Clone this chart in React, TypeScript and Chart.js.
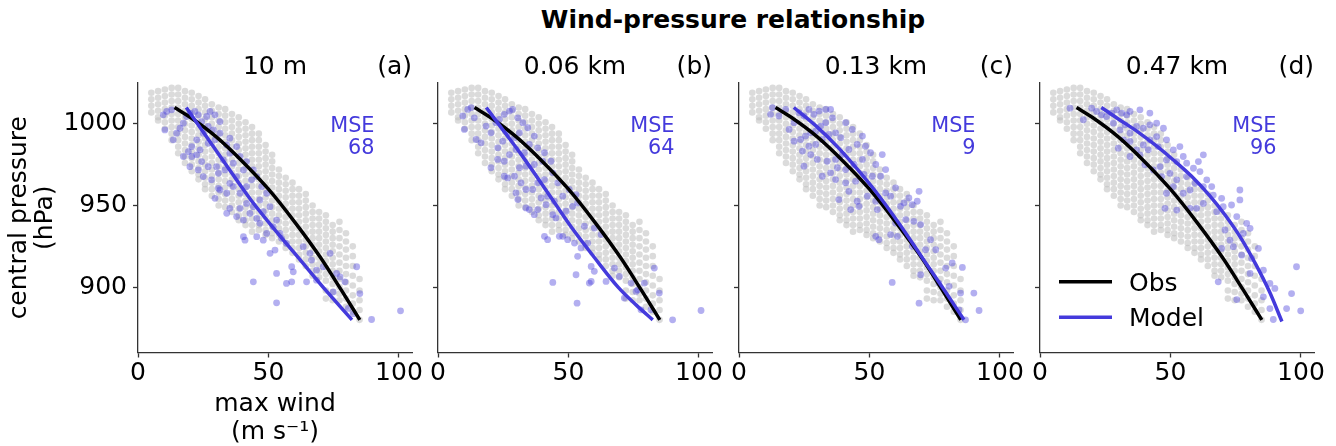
import { useEffect, useRef } from "react";
import { Chart, registerables } from "chart.js";

Chart.register(...registerables);

const FONT = "'DejaVu Sans', sans-serif";
const BLUE = "rgb(68, 58, 220)";
const AXIS = "#333";

// observed best-track points: one column per wind value (m/s), pressures in hPa
const obsWind = [
  5.1, 7.7, 10.3, 12.9, 15.4, 18.0, 20.6, 23.2, 25.7, 28.3, 30.9, 33.4, 36.0, 38.6, 41.2, 43.7,
  46.3, 48.9, 51.4, 54.0, 56.6, 59.2, 61.7, 64.3, 66.9, 69.4, 72.0, 74.6, 77.2, 79.7, 82.3, 84.9,
];
const obsPressure = [
  [1019, 1015, 1011, 1007],
  [1020, 1016, 1012, 1008, 1004, 1002],
  [1021, 1017, 1013, 1009, 1005, 1001, 997],
  [1022, 1018, 1014, 1010, 1006, 1002, 998, 994, 990],
  [1022, 1018, 1014, 1010, 1006, 1002, 998, 994, 990, 986, 982],
  [1020, 1016, 1012, 1008, 1004, 1000, 996, 992, 988, 984, 980, 976],
  [1019, 1015, 1011, 1007, 1003, 999, 995, 991, 987, 983, 979, 975, 971],
  [1017, 1013, 1009, 1005, 1001, 997, 993, 989, 985, 981, 977, 973, 969, 966],
  [1015, 1011, 1007, 1003, 999, 995, 991, 987, 983, 979, 975, 971, 967, 963, 960],
  [1012, 1008, 1004, 1000, 996, 992, 988, 984, 980, 976, 972, 968, 964, 960, 956],
  [1010, 1006, 1002, 998, 994, 990, 986, 982, 978, 974, 970, 966, 962, 958, 954, 950],
  [1009, 1005, 1001, 997, 993, 989, 985, 981, 977, 973, 969, 965, 961, 957, 953, 949],
  [1006, 1002, 998, 994, 990, 986, 982, 978, 974, 970, 966, 962, 958, 954, 950, 946],
  [1004, 1000, 996, 992, 988, 984, 980, 976, 972, 968, 964, 960, 956, 952, 948, 944, 941],
  [1001, 997, 993, 989, 985, 981, 977, 973, 969, 965, 961, 957, 953, 949, 945, 941, 938],
  [998, 994, 990, 986, 982, 978, 974, 970, 966, 962, 958, 954, 950, 946, 942, 938, 934],
  [994, 990, 986, 982, 978, 974, 970, 966, 962, 958, 954, 950, 946, 942, 938, 935],
  [987, 983, 979, 975, 971, 967, 963, 959, 955, 951, 947, 943, 939, 935, 932],
  [981, 977, 973, 969, 965, 961, 957, 953, 949, 945, 941, 937, 933, 930],
  [972, 968, 964, 960, 956, 952, 948, 944, 940, 936, 932, 928],
  [967, 963, 959, 955, 951, 947, 943, 939, 935, 931, 927, 924],
  [964, 960, 956, 952, 948, 944, 940, 936, 932, 928, 924, 921],
  [960, 956, 952, 948, 944, 940, 936, 932, 928, 924, 920, 917],
  [957, 953, 949, 945, 941, 937, 933, 929, 925, 921, 917, 913],
  [950, 946, 942, 938, 934, 930, 926, 922, 918, 914, 910, 907],
  [946, 942, 938, 934, 930, 926, 922, 918, 914, 910, 906],
  [944, 940, 936, 932, 928, 924, 920, 916, 912, 908, 904, 898, 893],
  [938, 934, 930, 926, 922, 918, 914, 910, 906, 902, 897, 892],
  [940, 935, 930, 925, 920, 915, 910, 905, 900, 896, 892],
  [933, 928, 923, 918, 913, 908, 903, 898, 893, 888],
  [925, 919, 913, 907, 901, 895, 890, 885],
  [905, 898, 892, 886, 880],
];

const obsFitWind = [14, 20, 30, 40, 50, 60, 70, 78, 85];
const obsFitPressure = [1010, 1004, 992, 977, 960, 940, 918, 898, 880];

// model points, [max wind, central pressure], one list per height
const modelA: [number, number][] = [
  [9.7, 1005.5], [11.0, 1007.6], [12.9, 1008.6], [10.3, 996.3], [13.5, 990.2], [14.8, 994.3], [16.1, 997.3],
  [17.4, 1000.4], [18.6, 1004.5], [19.9, 1006.6], [21.8, 1007.6], [23.1, 1005.5], [24.4, 1001.4], [26.3, 1004.5],
  [27.6, 1007.6], [29.5, 1005.5], [31.4, 1001.4], [28.9, 996.3], [26.9, 998.4], [25.0, 994.3], [22.5, 990.2],
  [20.6, 986.1], [19.3, 983.0], [17.4, 980.0], [20.6, 980.0], [23.8, 984.1], [26.9, 988.1], [29.5, 990.2],
  [31.4, 994.3], [34.0, 987.1], [35.2, 991.2], [37.8, 986.1], [35.2, 982.0], [32.7, 977.9], [30.1, 973.8],
  [26.9, 973.8], [24.4, 976.9], [22.5, 981.0], [19.9, 973.8], [23.1, 971.8], [25.0, 967.7], [28.2, 965.7],
  [30.8, 969.7], [33.3, 971.8], [36.5, 975.9], [39.1, 980.0], [41.6, 976.9], [40.4, 971.8], [37.8, 967.7],
  [35.2, 963.6], [31.4, 959.5], [29.5, 954.4], [30.8, 960.5], [34.0, 957.5], [36.5, 961.6], [39.1, 957.5],
  [41.6, 961.6], [43.5, 965.7], [45.5, 967.7], [44.2, 971.8], [47.4, 961.6], [49.3, 957.5], [46.7, 953.4],
  [44.2, 949.3], [41.6, 951.3], [39.1, 948.3], [35.2, 948.3], [34.0, 945.2], [37.8, 943.2], [40.4, 941.1],
  [42.9, 945.2], [45.5, 942.1], [48.0, 946.2], [50.6, 949.3], [53.1, 941.1], [51.8, 937.0], [49.3, 932.9],
  [46.7, 939.1], [54.4, 932.9], [56.9, 926.8], [55.0, 929.9], [52.5, 922.7], [50.6, 920.7], [48.0, 928.8],
  [45.5, 930.9], [41.0, 928.8], [40.4, 930.9], [44.2, 903.3], [53.1, 908.4], [58.9, 912.5], [59.5, 909.4],
  [56.9, 902.3], [58.9, 903.3], [64.6, 903.3], [68.4, 904.3], [68.4, 910.4], [66.5, 916.6], [65.9, 920.7],
  [63.3, 924.8], [71.0, 912.5], [74.8, 897.1], [77.4, 906.3], [79.3, 903.3], [80.6, 887.0], [83.8, 912.5],
  [85.0, 896.1], [53.1, 890.4], [89.5, 880.2], [100.6, 885.5], [82.5, 883.8], [73.6, 920.7], [76.1, 908.4],
];
const modelB: [number, number][] = [
  [9.5, 1004.8], [11.4, 1008.8], [12.7, 1009.9], [13.9, 1003.7], [10.1, 996.6], [14.6, 990.4], [16.5, 988.4],
  [18.4, 998.6], [20.3, 994.5], [22.2, 1000.7], [23.5, 1002.7], [25.4, 1005.8], [27.4, 1007.8], [28.6, 1008.8],
  [30.6, 1003.7], [32.5, 1000.7], [34.4, 997.6], [31.2, 994.5], [29.3, 991.5], [26.7, 994.5], [24.8, 989.4],
  [22.9, 985.3], [20.3, 973.1], [22.9, 978.2], [25.4, 977.1], [27.4, 981.2], [29.9, 984.3], [33.1, 982.3],
  [35.0, 987.4], [36.9, 992.5], [38.2, 985.3], [40.8, 982.3], [43.3, 977.1], [40.1, 977.1], [36.9, 975.1],
  [33.7, 974.1], [31.2, 973.1], [29.3, 967.9], [26.7, 966.9], [25.4, 967.9], [31.8, 963.9], [29.9, 957.7],
  [30.6, 953.6], [33.7, 959.8], [36.3, 959.8], [38.2, 963.9], [40.8, 965.9], [44.0, 970.0], [45.9, 963.9],
  [42.0, 955.7], [39.5, 954.6], [38.2, 947.5], [35.0, 947.5], [33.7, 948.5], [36.9, 944.4], [41.4, 950.5],
  [44.6, 952.6], [47.8, 955.7], [50.3, 959.8], [52.9, 956.7], [53.5, 951.6], [51.6, 949.5], [49.1, 946.5],
  [45.2, 942.4], [44.0, 944.4], [40.8, 931.1], [42.0, 929.1], [46.5, 931.1], [47.8, 931.1], [49.7, 929.1],
  [52.3, 927.0], [54.8, 924.0], [57.4, 927.0], [56.1, 937.3], [59.9, 936.2], [62.5, 932.2], [53.5, 918.9],
  [58.7, 912.7], [59.9, 909.7], [58.0, 902.5], [58.7, 903.5], [64.4, 903.5], [67.6, 911.7], [69.5, 906.6],
  [74.0, 902.5], [76.5, 898.4], [79.1, 902.5], [82.9, 911.7], [84.8, 896.4], [75.9, 897.4], [81.6, 886.1],
  [44.0, 902.9], [52.9, 907.6], [53.3, 890.2], [89.9, 880.0], [100.8, 885.7], [77.8, 886.1], [71.4, 893.3],
];
const modelC: [number, number][] = [
  [12.8, 1009.9], [12.1, 1005.8], [15.3, 1004.8], [17.9, 1008.8], [19.2, 996.6], [21.1, 1000.7], [23.0, 1006.8],
  [24.9, 1004.8], [26.8, 1008.8], [28.7, 1005.8], [30.7, 1007.8], [33.2, 1008.8], [35.1, 1008.8], [35.8, 1003.7],
  [33.2, 1000.7], [31.3, 998.6], [29.4, 995.5], [27.5, 994.5], [25.5, 992.5], [23.6, 990.4], [21.1, 989.4],
  [24.3, 983.3], [26.8, 986.3], [29.4, 987.4], [31.9, 990.4], [34.5, 993.5], [37.0, 994.5], [39.0, 991.5],
  [40.9, 1000.7], [43.4, 996.6], [45.3, 987.4], [47.3, 992.5], [48.5, 986.3], [42.1, 984.3], [39.6, 981.2],
  [37.0, 978.2], [33.8, 977.1], [30.0, 978.2], [27.5, 981.2], [24.9, 974.1], [31.9, 967.9], [35.1, 970.0],
  [37.7, 973.1], [40.9, 972.0], [44.1, 975.1], [47.3, 978.2], [50.4, 982.3], [52.4, 975.1], [54.9, 981.2],
  [56.2, 972.0], [54.3, 967.9], [51.1, 967.9], [47.9, 969.0], [44.7, 964.9], [40.9, 963.9], [37.0, 965.9],
  [38.3, 953.6], [42.1, 958.7], [45.3, 952.6], [42.8, 947.5], [46.0, 949.5], [49.2, 955.7], [52.4, 952.6],
  [53.0, 947.5], [56.2, 957.7], [58.1, 955.7], [60.0, 960.8], [61.9, 949.5], [63.2, 951.6], [65.1, 954.6],
  [66.4, 950.5], [69.0, 958.7], [68.3, 952.6], [67.0, 940.3], [69.6, 938.3], [63.9, 941.4], [60.0, 939.3],
  [58.1, 932.2], [52.4, 931.1], [53.6, 929.1], [60.7, 931.1], [66.4, 925.0], [71.5, 922.9], [73.4, 929.1],
  [75.4, 922.9], [69.6, 907.6], [58.7, 902.9], [69.0, 890.2], [76.6, 902.5], [80.5, 900.5], [85.6, 912.1],
  [84.9, 896.4], [90.0, 896.4], [92.0, 885.7], [86.8, 880.0], [84.3, 886.1], [79.2, 911.7], [81.7, 914.8],
];
const modelD: [number, number][] = [
  [11.5, 1009.6], [16.6, 1002.5], [19.8, 1009.6], [21.7, 1007.6], [23.6, 1005.5], [25.5, 1004.5], [27.5, 1006.6],
  [29.4, 1008.6], [31.3, 1006.6], [33.2, 1005.5], [34.5, 1007.6], [38.3, 1008.6], [42.1, 1006.6], [28.1, 1000.4],
  [30.7, 996.3], [32.6, 999.4], [34.5, 994.3], [37.0, 998.4], [39.6, 997.3], [42.1, 999.4], [44.7, 1000.4],
  [47.3, 997.3], [44.7, 992.2], [42.1, 990.2], [39.6, 987.1], [37.0, 984.1], [34.5, 989.2], [32.0, 990.2],
  [30.0, 985.1], [34.5, 980.0], [38.3, 981.0], [41.5, 984.1], [45.3, 986.1], [48.5, 990.2], [51.1, 984.1],
  [53.6, 986.1], [54.9, 980.0], [56.2, 975.9], [52.4, 976.9], [48.5, 977.9], [46.0, 973.8], [43.4, 971.8],
  [40.2, 974.9], [46.6, 967.7], [49.8, 969.7], [52.4, 965.7], [56.2, 967.7], [58.8, 972.8], [60.7, 976.9],
  [62.6, 981.0], [61.3, 970.8], [63.9, 965.7], [65.8, 961.6], [62.6, 961.6], [59.4, 963.6], [57.5, 959.5],
  [54.9, 957.5], [51.1, 961.6], [48.5, 957.5], [47.9, 948.3], [52.4, 947.2], [57.5, 948.3], [60.0, 948.3],
  [62.6, 951.3], [66.4, 956.4], [69.6, 954.4], [67.7, 946.2], [70.2, 949.3], [73.4, 950.3], [76.6, 953.4],
  [76.6, 959.5], [75.4, 943.2], [79.2, 939.1], [80.5, 936.0], [77.9, 932.9], [72.8, 928.8], [70.9, 935.0],
  [69.6, 923.7], [74.1, 924.8], [77.3, 919.6], [81.1, 917.6], [83.7, 923.7], [80.5, 908.4], [85.6, 910.4],
  [88.1, 902.3], [90.0, 899.2], [96.4, 896.1], [98.3, 912.5], [94.5, 886.9], [88.1, 886.9], [89.4, 880.2],
  [99.9, 885.5], [68.3, 903.3], [75.4, 892.4], [85.6, 894.1],
];

const fitWindA = [18.5, 25, 32, 43, 52, 62, 72, 82];
const fitPressureA = [1010, 995, 979, 954, 936, 917, 898, 880];
const fitWindB = [18.5, 25, 32, 42, 51, 60, 69, 76, 82.3];
const fitPressureB = [1010, 996, 981, 958, 937, 918, 900, 889, 880];
const fitWindC = [21, 30, 38.3, 46, 53.6, 62, 71.5, 80, 86.2];
const fitPressureC = [1010, 998, 985, 971, 956, 937.5, 915, 895, 880];
const fitWindD = [23.5, 30, 38, 45, 51, 58, 65, 71, 77, 83, 88, 92.7];
const fitPressureD = [1010, 1003, 994.5, 986, 978, 968, 956, 944, 930, 913, 897, 879];

const panelLabels = ["10 m", "0.06 km", "0.13 km", "0.47 km"];
const panelTags = ["(a)", "(b)", "(c)", "(d)"];
const mseValues = [68, 64, 9, 96];
const legendLabels = ["Obs", "Model"];
const xTicks = [0, 50, 100];
const yTicks = [900, 950, 1000];

const modelPoints = [modelA, modelB, modelC, modelD];
const fitWind = [fitWindA, fitWindB, fitWindC, fitWindD];
const fitPressure = [fitPressureA, fitPressureB, fitPressureC, fitPressureD];

const plotLefts = [138, 438, 739, 1040];
const PLOT_W = 274;
const PAD_RIGHT = 14;
const HEIGHT = 446;

function Panel({ index }: { index: number }) {
  const canvasRef = useRef<HTMLCanvasElement>(null);
  const first = index === 0;
  const axisWidth = first ? 138 : 20;
  const left = plotLefts[index] - axisWidth;
  const width = axisWidth + PLOT_W + PAD_RIGHT;

  useEffect(() => {
    if (!canvasRef.current) return;

    const obsPoints = obsWind.flatMap((w, i) => obsPressure[i].map((p) => ({ x: w, y: p })));
    const modelPts = modelPoints[index].map(([x, y]) => ({ x, y }));
    const obsFit = obsFitWind.map((x, i) => ({ x, y: obsFitPressure[i] }));
    const modelFit = fitWind[index].map((x, i) => ({ x, y: fitPressure[index][i] }));

    const textPlugin = {
      id: "panelText",
      afterDraw(chart: Chart) {
        const { ctx, chartArea } = chart;
        ctx.save();
        ctx.textBaseline = "alphabetic";
        ctx.fillStyle = "#000";
        ctx.font = `25px ${FONT}`;
        ctx.textAlign = "center";
        ctx.fillText(panelLabels[index], (chartArea.left + chartArea.right) / 2, 74);
        ctx.textAlign = "right";
        ctx.fillText(panelTags[index], chartArea.right, 74);

        ctx.fillStyle = BLUE;
        ctx.font = `20.8px ${FONT}`;
        ctx.fillText("MSE", chartArea.left + 236.5, 132);
        ctx.fillText(String(mseValues[index]), chartArea.left + 236.5, 153.5);

        if (index === 3) {
          const colors = ["#000", BLUE];
          const ys = [281.7, 317.3];
          ctx.lineWidth = 3.5;
          ctx.textAlign = "left";
          ctx.font = `25px ${FONT}`;
          ctx.fillStyle = "#000";
          legendLabels.forEach((label, i) => {
            ctx.strokeStyle = colors[i];
            ctx.beginPath();
            ctx.moveTo(chartArea.left + 19, ys[i]);
            ctx.lineTo(chartArea.left + 72, ys[i]);
            ctx.stroke();
            ctx.fillText(label, chartArea.left + 89, ys[i] + 9);
          });
        }
        ctx.restore();
      },
    };

    const tickFont = { family: FONT, size: 25 };

    const chart = new Chart(canvasRef.current, {
      type: "scatter",
      data: {
        datasets: [
          {
            data: modelFit,
            showLine: true,
            borderColor: BLUE,
            borderWidth: 3.5,
            pointRadius: 0,
            cubicInterpolationMode: "monotone",
            order: 0,
          },
          {
            data: obsFit,
            showLine: true,
            borderColor: "#000",
            borderWidth: 3.5,
            pointRadius: 0,
            cubicInterpolationMode: "monotone",
            order: 1,
          },
          {
            data: modelPts,
            backgroundColor: "rgba(75, 65, 220, 0.42)",
            borderWidth: 0,
            pointRadius: 3.4,
            order: 2,
          },
          {
            data: obsPoints,
            backgroundColor: "rgba(190, 190, 190, 0.55)",
            borderWidth: 0,
            pointRadius: 3.3,
            order: 3,
          },
        ],
      },
      options: {
        animation: false,
        responsive: true,
        maintainAspectRatio: false,
        events: [],
        layout: { padding: { top: 83, right: PAD_RIGHT, bottom: 0, left: 0 } },
        plugins: {
          legend: { display: false },
          tooltip: { enabled: false },
        },
        scales: {
          x: {
            type: "linear",
            min: 0,
            max: 105,
            afterBuildTicks: (scale: any) => {
              scale.ticks = xTicks.map((v) => ({ value: v }));
            },
            afterFit: (scale: any) => {
              scale.height = HEIGHT - 352.5;
            },
            grid: { drawOnChartArea: false, tickLength: 5, color: AXIS, tickWidth: 1.3 },
            border: { display: true, color: AXIS, width: 1.3 },
            ticks: { color: "#000", font: tickFont, padding: 1, maxRotation: 0 },
            title: {
              display: first,
              text: ["max wind", "(m s\u207B\u00B9)"],
              color: "#000",
              font: { family: FONT, size: 25, lineHeight: 1.1 },
              padding: { top: 0, bottom: 0 },
            },
          },
          y: {
            type: "linear",
            min: 860,
            max: 1025,
            afterBuildTicks: (scale: any) => {
              scale.ticks = yTicks.map((v) => ({ value: v }));
            },
            afterFit: (scale: any) => {
              scale.width = axisWidth;
            },
            grid: { drawOnChartArea: false, tickLength: 5, color: AXIS, tickWidth: 1.3 },
            border: { display: true, color: AXIS, width: 1.3 },
            ticks: {
              color: "#000",
              font: tickFont,
              padding: 6,
              callback: (v: any) => (first ? String(v) : ""),
            },
            title: {
              display: first,
              text: ["central pressure", "(hPa)"],
              color: "#000",
              font: { family: FONT, size: 25, lineHeight: 1.05 },
              padding: { top: 6, bottom: 0 },
            },
          },
        },
      },
      plugins: [textPlugin],
    } as any);

    return () => {
      chart.destroy();
    };
  }, [index]);

  return (
    <div style={{ position: "absolute", left, top: 0, width, height: HEIGHT }}>
      <canvas ref={canvasRef} />
    </div>
  );
}

export default function App() {
  return (
    <div
      style={{
        position: "fixed",
        left: 0,
        top: 0,
        width: 1336,
        height: HEIGHT,
        background: "#fff",
        overflow: "hidden",
      }}
    >
      <div
        style={{
          position: "absolute",
          left: 483,
          top: 5,
          width: 500,
          textAlign: "center",
          fontFamily: FONT,
          fontWeight: "bold",
          fontSize: 25,
          lineHeight: "30px",
          color: "#000",
        }}
      >
        Wind-pressure relationship
      </div>
      {[0, 1, 2, 3].map((i) => (
        <Panel key={i} index={i} />
      ))}
    </div>
  );
}
